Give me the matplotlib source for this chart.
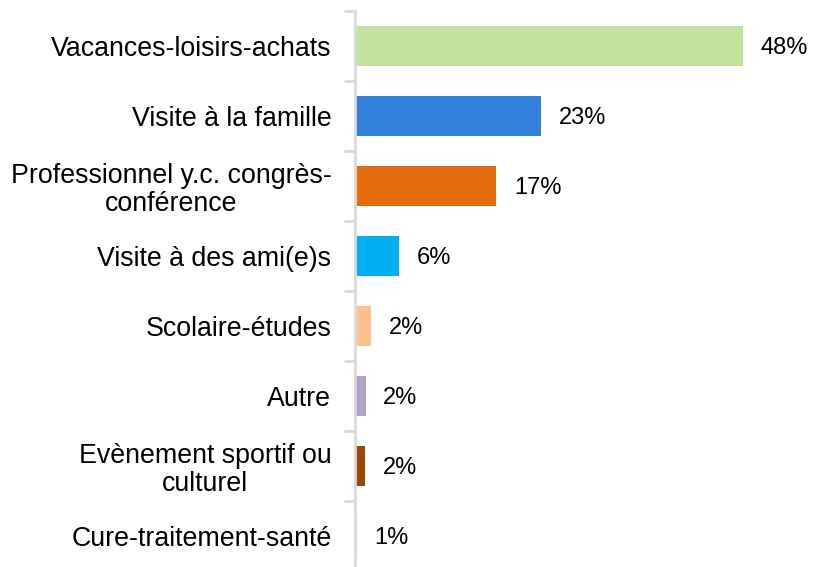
import matplotlib.pyplot as plt
from matplotlib.ticker import FixedLocator

# Données
categories = ['Vacances-loisirs-achats', 'Visite à la famille',
              'Professionnel y.c. congrès-\nconférence', 'Visite à des ami(e)s',
              'Scolaire-études', 'Autre', 'Evènement sportif ou\nculturel',
              'Cure-traitement-santé']
valeurs = [48.0, 23.0, 17.5, 5.5, 2.0, 1.3, 1.2, 0.2]
etiquettes = ['48%', '23%', '17%', '6%', '2%', '2%', '2%', '1%']
couleurs = ['#c3e29c', '#3380d8', '#e46c0a', '#00b0f0',
            '#fac090', '#b3a2c7', '#984807', '#ffffcc']

plt.rcParams['font.family'] = ['Liberation Sans', 'DejaVu Sans']

fig = plt.figure(figsize=(8.13, 5.67), dpi=100)
ax = fig.add_axes([355/813, -4/567, 1 - 355/813, 560/567])

y = list(range(len(categories)))
ax.barh(y, valeurs, height=0.56, color=couleurs)
ax.set_ylim(len(categories) - 0.5, -0.5)
ax.set_xlim(0, 56.7)

for yi, v, t in zip(y, valeurs, etiquettes):
    ax.text(v + 2.2, yi + 0.03, t, va='center', ha='left', fontsize=17)

ax.set_yticks(y)
ax.set_yticklabels(categories, fontsize=19.3, multialignment='center', linespacing=1.08)
ax.tick_params(axis='y', which='major', length=0, pad=17)
ax.yaxis.set_minor_locator(FixedLocator([i - 0.5 for i in range(len(categories) + 1)]))
ax.tick_params(axis='y', which='minor', length=8, width=2, color='#d9d9d9')
ax.set_xticks([])

for s in ['top', 'right', 'bottom']:
    ax.spines[s].set_visible(False)
ax.spines['left'].set_color('#d9d9d9')
ax.spines['left'].set_linewidth(2)

fig.savefig('out.png', dpi=100)
